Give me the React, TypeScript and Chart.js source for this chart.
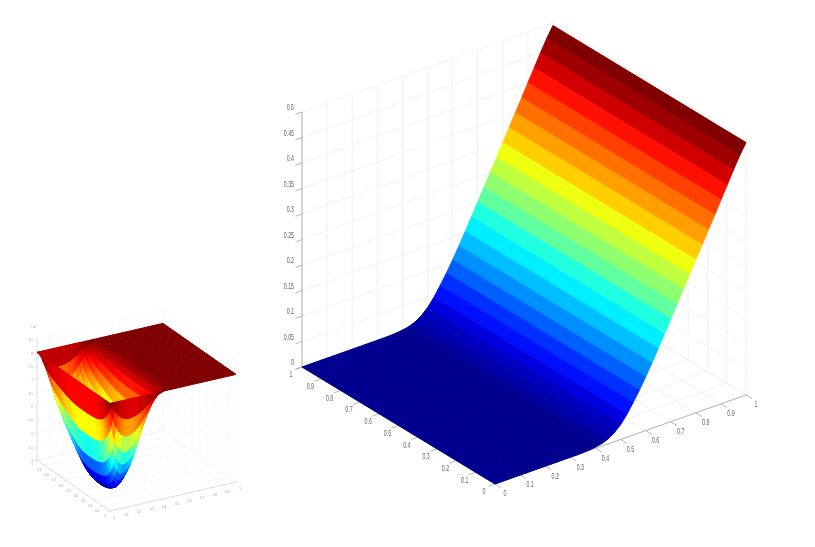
import React, { useEffect, useRef } from "react";
import { Chart, registerables } from "chart.js";

Chart.register(...registerables);

// ---------- data ----------
const bigTickLabels = ["0", "0.1", "0.2", "0.3", "0.4", "0.5", "0.6", "0.7", "0.8", "0.9", "1"];
const bigTickValues = [0, 0.1, 0.2, 0.3, 0.4, 0.5, 0.6, 0.7, 0.8, 0.9, 1];
const bigZTickLabels = ["0", "0.05", "0.1", "0.15", "0.2", "0.25", "0.3", "0.35", "0.4", "0.45", "0.5"];
const bigZTickValues = [0, 0.05, 0.1, 0.15, 0.2, 0.25, 0.3, 0.35, 0.4, 0.45, 0.5];
// option-value profile z(x) on 41 grid nodes x = i/40
const bigProfile = [
  0, 0, 0, 0, 0, 0, 0, 0, 0, 0, 0, 0, 0, 0,
  0.0003, 0.001, 0.0025, 0.005, 0.0095, 0.0175, 0.029, 0.0445, 0.0635, 0.0835, 0.1052, 0.128, 0.152, 0.1765,
  0.201, 0.2257, 0.2505, 0.2752, 0.3, 0.325, 0.35, 0.375, 0.4, 0.425, 0.45, 0.474, 0.495,
];

const smallZTickLabels = ["4", "4.5", "5", "5.5", "6", "6.5", "7", "7.5", "8", "8.5"];
const smallZTickValues = [4, 4.5, 5, 5.5, 6, 6.5, 7, 7.5, 8, 8.5];
const smallPlateau = 8;
const smallPitDepth = 3.9;
// pit cross-sections on 41 grid nodes = i/40
const pitAlongX = [
  0, 0.27, 0.5, 0.72, 0.86, 0.95, 1, 1, 0.97, 0.92, 0.85, 0.75, 0.63, 0.5, 0.38, 0.27, 0.18, 0.11, 0.06, 0.03, 0.012, 0.004,
  0, 0, 0, 0, 0, 0, 0, 0, 0, 0, 0, 0, 0, 0, 0, 0, 0, 0, 0,
];
const pitAlongY = [
  0, 0.2, 0.38, 0.54, 0.67, 0.77, 0.84, 0.89, 0.93, 0.955, 0.97, 0.98, 0.99, 0.995, 1, 1, 1, 1, 1, 0.995, 0.99,
  0.98, 0.965, 0.945, 0.92, 0.895, 0.87, 0.84, 0.81, 0.78, 0.745, 0.71, 0.68, 0.64, 0.6, 0.55, 0.49, 0.41, 0.31, 0.17, 0,
];
// flat dark corner of the plateau, seen behind the rim: plan corners (x, y)
const capX = [0, 0, 0.34];
const capY = [0.72, 1, 1];

// ---------- view geometry ----------
type View = { ox: number; oy: number; xx: number; xy: number; yx: number; yy: number; zb: number; zs: number };
const bigView: View = { ox: 495, oy: 484, xx: 251, xy: -89, yx: -193, yy: -117, zb: 0, zs: 510 };
const smallView: View = { ox: 110, oy: 511, xx: 126, xy: -29, yx: -73, yy: -51, zb: 4, zs: 26.9 };

const project = (v: View, x: number, y: number, z: number) => ({
  x: v.ox + x * v.xx + y * v.yx,
  y: v.oy + x * v.xy + y * v.yy - (z - v.zb) * v.zs,
});

function jet(t: number) {
  const idx = Math.min(63, Math.max(0, Math.floor(t * 64)));
  const g = (idx + 1) / 64;
  const ch = (c: number) => Math.round(255 * Math.min(1, Math.max(0, c)));
  return `rgb(${ch(1.5 - Math.abs(4 * g - 3))},${ch(1.5 - Math.abs(4 * g - 2))},${ch(1.5 - Math.abs(4 * g - 1))})`;
}

const lineSet = (pts: { x: number; y: number }[], color: string, width: number) => ({
  data: pts,
  showLine: true,
  pointRadius: 0,
  fill: false,
  borderColor: color,
  borderWidth: width,
});
const polySet = (pts: { x: number; y: number }[], color: string) => ({
  data: [...pts, pts[0]],
  showLine: true,
  pointRadius: 0,
  fill: "shape",
  backgroundColor: color,
  borderColor: color,
  borderWidth: 1,
});

function frame(v: View, xyTicks: number[], zTicks: number[], grid: string, gw: number, axis: string, tick: number) {
  const out: any[] = [];
  const zb = zTicks[0];
  const zt = zTicks[zTicks.length - 1];
  for (const t of xyTicks) {
    out.push(lineSet([project(v, t, 0, zb), project(v, t, 1, zb), project(v, t, 1, zt)], grid, gw));
    out.push(lineSet([project(v, 0, t, zb), project(v, 1, t, zb)], grid, gw));
    out.push(lineSet([project(v, 1, t, zb), project(v, 1, t, zt)], grid, gw));
  }
  for (const z of zTicks) {
    out.push(lineSet([project(v, 0, 1, z), project(v, 1, 1, z), project(v, 1, 0, z)], grid, gw));
  }
  out.push(lineSet([project(v, 0, 1, zb), project(v, 0, 1, zt)], axis, gw));
  out.push(lineSet([project(v, 0, 1, zb), project(v, 0, 0, zb), project(v, 1, 0, zb)], axis, gw));
  const lx = Math.hypot(v.xx, v.xy);
  const ly = Math.hypot(v.yx, v.yy);
  for (const t of xyTicks) {
    const a = project(v, t, 0, zb);
    out.push(lineSet([a, { x: a.x - (v.yx / ly) * tick, y: a.y - (v.yy / ly) * tick }], axis, gw));
    const b = project(v, 0, t, zb);
    out.push(lineSet([b, { x: b.x - (v.xx / lx) * tick, y: b.y - (v.xy / lx) * tick }], axis, gw));
  }
  for (const z of zTicks) {
    const a = project(v, 0, 1, z);
    out.push(lineSet([a, { x: a.x - (v.xx / lx) * tick, y: a.y - (v.xy / lx) * tick }], axis, gw));
  }
  return out;
}

function bigSurface() {
  const out: any[] = [];
  const n = bigProfile.length - 1;
  const top = bigProfile[n];
  for (let i = n - 1; i >= 0; i--) {
    const x0 = i / n;
    const x1 = (i + 1) / n;
    out.push(
      polySet(
        [
          project(bigView, x0, 0, bigProfile[i]),
          project(bigView, x1, 0, bigProfile[i + 1]),
          project(bigView, x1, 1, bigProfile[i + 1]),
          project(bigView, x0, 1, bigProfile[i]),
        ],
        jet(bigProfile[i + 1] / top)
      )
    );
  }
  return out;
}

function smallSurface() {
  const out: any[] = [];
  const n = pitAlongX.length - 1;
  const h = (i: number, j: number) => smallPlateau - smallPitDepth * pitAlongX[i] * pitAlongY[j];
  const lo = smallPlateau - smallPitDepth;
  for (let i = n - 1; i >= 0; i--) {
    for (let j = n - 1; j >= 0; j--) {
      const x0 = i / n, x1 = (i + 1) / n, y0 = j / n, y1 = (j + 1) / n;
      out.push(
        polySet(
          [
            project(smallView, x0, y0, h(i, j)),
            project(smallView, x1, y0, h(i + 1, j)),
            project(smallView, x1, y1, h(i + 1, j + 1)),
            project(smallView, x0, y1, h(i, j + 1)),
          ],
          jet((h(i, j) + h(i + 1, j) + h(i, j + 1) + h(i + 1, j + 1)) / 4 / smallPitDepth - lo / smallPitDepth)
        )
      );
    }
  }
  out.push(polySet(capX.map((x, i) => project(smallView, x, capY[i], smallPlateau)), jet(0.93)));
  return out;
}

const labelPlugin = {
  id: "axisLabels",
  afterDatasetsDraw(chart: any) {
    const { ctx, scales } = chart;
    const put = (s: string, p: { x: number; y: number }, dx: number, dy: number, align: CanvasTextAlign, sx: number) => {
      ctx.save();
      ctx.translate(scales.x.getPixelForValue(p.x) + dx, scales.y.getPixelForValue(p.y) + dy);
      ctx.scale(sx, 1);
      ctx.textAlign = align;
      ctx.textBaseline = "middle";
      ctx.fillText(s, 0, 0);
      ctx.restore();
    };
    ctx.save();
    ctx.fillStyle = "#666";
    ctx.font = '8.5px "Liberation Sans", sans-serif';
    bigTickValues.forEach((t, i) => {
      put(bigTickLabels[i], project(bigView, t, 0, 0), 10, 10, "center", 0.62);
      put(bigTickLabels[i], project(bigView, 0, t, 0), -11, 8, "center", 0.62);
    });
    bigZTickValues.forEach((z, i) => put(bigZTickLabels[i], project(bigView, 0, 1, z), -8, -4, "right", 0.62));
    ctx.fillStyle = "#999";
    ctx.font = '4px "Liberation Sans", sans-serif';
    bigTickValues.forEach((t, i) => {
      put(bigTickLabels[i], project(smallView, t, 0, 4), 4, 7, "center", 0.75);
      put(bigTickLabels[i], project(smallView, 0, t, 4), -5, 5, "center", 0.75);
    });
    smallZTickValues.forEach((z, i) => put(smallZTickLabels[i], project(smallView, 0, 1, z), -4, 1, "right", 0.75));
    put("×10⁻³", project(smallView, 0, 1, 8.5), -3, -12, "center", 0.75);
    ctx.restore();
  },
};

export default function App() {
  const ref = useRef<HTMLCanvasElement>(null);
  useEffect(() => {
    const painter = [
      ...frame(smallView, bigTickValues, smallZTickValues, "#f1f1f1", 0.5, "#c4c4c4", 2),
      ...smallSurface(),
      ...frame(bigView, bigTickValues, bigZTickValues, "#ededed", 0.8, "#a3a3a3", 7),
      ...bigSurface(),
    ];
    const chart = new Chart(ref.current as HTMLCanvasElement, {
      type: "scatter",
      data: { datasets: painter.reverse() },
      options: {
        animation: false,
        responsive: false,
        events: [],
        layout: { padding: 0 },
        plugins: { legend: { display: false }, tooltip: { enabled: false } },
        scales: {
          x: { type: "linear", display: false, min: 0, max: 815 },
          y: { type: "linear", display: false, min: 0, max: 547, reverse: true },
        },
      },
      plugins: [labelPlugin],
    } as any);
    return () => chart.destroy();
  }, []);
  return (
    <div style={{ position: "absolute", left: 0, top: 0, width: 815, height: 547, background: "#fff" }}>
      <canvas ref={ref} width={815} height={547} style={{ display: "block" }} />
    </div>
  );
}
